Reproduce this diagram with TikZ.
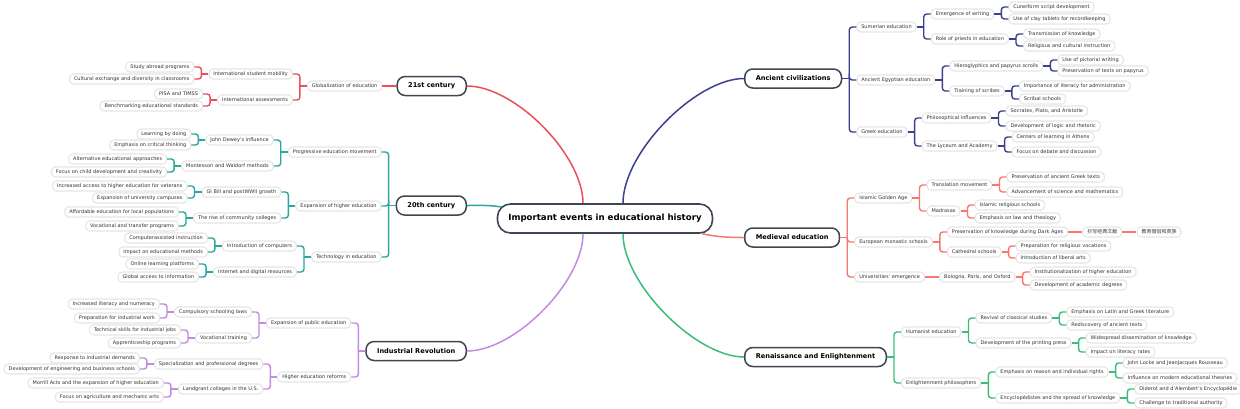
\documentclass[tikz,border=0pt]{standalone}
\usepackage{fontspec}
\setmainfont{DejaVu Sans}
\newfontfamily\cjk{Noto Sans CJK SC}
\definecolor{navy}{HTML}{3D408C}
\definecolor{salmon}{HTML}{F8776E}
\definecolor{grn}{HTML}{3DBB7B}
\definecolor{redd}{HTML}{E8505B}
\definecolor{teal2}{HTML}{2BA79F}
\definecolor{purp}{HTML}{C38BE3}
\definecolor{dark}{HTML}{3C4753}
\definecolor{leafgray}{HTML}{E6E6E6}
\definecolor{txtgray}{HTML}{333333}
\tikzset{
 leaf/.style={draw=leafgray, line width=1.1pt, rounded corners=4pt, fill=white, text=txtgray, font=\fontsize{5}{6}\selectfont, inner xsep=4.5pt, inner ysep=0pt, minimum height=10pt},
 topic/.style={draw=dark, line width=1.5pt, rounded corners=8pt, fill=white, text=black, font=\bfseries\fontsize{6.6}{8}\selectfont, inner xsep=11pt, inner ysep=0pt, minimum height=19pt},
 rootnode/.style={draw=dark, line width=1.6pt, rounded corners=13pt, fill=white, text=black, font=\bfseries\fontsize{8.6}{10}\selectfont, minimum width=215pt, minimum height=29pt},
 br/.style={line width=1.4pt},
 mainline/.style={line width=1.5pt},
}
% right-side child with bracket link: color, name, parent, y, text
\newcommand\kR[5]{%
 \path (#3.east) ++(14,0) coordinate (tmp);
 \path (#3.east) ++(7,0) coordinate (jn);
 \node[leaf,anchor=west] (#2) at (tmp |- 0,#4) {#5};
 \draw[br,#1] (#3.east) -- (jn);
 \draw[br,#1,rounded corners=3pt] (jn) |- (#2.west);}
\newcommand\sR[5]{%
 \path (#3.east) ++(14,0) coordinate (tmp);
 \node[leaf,anchor=west] (#2) at (tmp |- 0,#4) {#5};
 \draw[br,#1] (#3.east) -- (#2.west);}
\newcommand\kL[5]{%
 \path (#3.west) ++(-14,0) coordinate (tmp);
 \path (#3.west) ++(-7,0) coordinate (jn);
 \node[leaf,anchor=east] (#2) at (tmp |- 0,#4) {#5};
 \draw[br,#1] (#3.west) -- (jn);
 \draw[br,#1,rounded corners=3pt] (jn) |- (#2.east);}
\newcommand\sL[5]{%
 \path (#3.west) ++(-14,0) coordinate (tmp);
 \node[leaf,anchor=east] (#2) at (tmp |- 0,#4) {#5};
 \draw[br,#1] (#3.west) -- (#2.east);}
\begin{document}
\begin{tikzpicture}[x=1pt,y=-1pt]
\useasboundingbox (0,0) rectangle (1240,408);
\fill[white] (0,0) rectangle (1240,408);

\node[rootnode] (root) at (605,218.5) {Important events in educational history};
\node[topic,anchor=west] (anc) at (744,78.5) {Ancient civilizations};
\node[topic,anchor=west] (med) at (744,237.5) {Medieval education};
\node[topic,anchor=west] (ren) at (744,357) {Renaissance and Enlightenment};
\node[topic,anchor=east] (c21) at (467,86) {21st century};
\node[topic,anchor=east] (c20) at (467,205.5) {20th century};
\node[topic,anchor=east] (ind) at (467,351) {Industrial Revolution};

\draw[mainline,navy] ([xshift=18]root.north) .. controls +(0,-51) and +(-48,0) .. (anc.west);
\draw[mainline,grn] ([xshift=18]root.south) .. controls +(0,50) and +(-48,0) .. (ren.west);
\draw[mainline,salmon] ([xshift=-11]root.south east) .. controls +(15,3) and +(-18,0) .. (med.west);
\draw[mainline,redd] ([xshift=-22]root.north) .. controls +(0,-48) and +(48,0) .. (c21.east);
\draw[mainline,purp] ([xshift=-22]root.south) .. controls +(0,48) and +(48,0) .. (ind.east);
\draw[mainline,teal2] (c20.east) .. controls +(14,0) and +(-12,-2) .. ([xshift=5,yshift=11.5]root.west);

% Ancient civilizations
\kR{navy}{a1}{anc}{27}{Sumerian education}
\kR{navy}{a11}{a1}{14}{Emergence of writing}
\kR{navy}{a111}{a11}{7}{Cuneiform script development}
\kR{navy}{a112}{a11}{19}{Use of clay tablets for recordkeeping}
\kR{navy}{a12}{a1}{39}{Role of priests in education}
\kR{navy}{a121}{a12}{34}{Transmission of knowledge}
\kR{navy}{a122}{a12}{46}{Religious and cultural instruction}
\kR{navy}{a2}{anc}{80}{Ancient Egyptian education}
\kR{navy}{a21}{a2}{66}{Hieroglyphics and papyrus scrolls}
\kR{navy}{a211}{a21}{60}{Use of pictorial writing}
\kR{navy}{a212}{a21}{71}{Preservation of texts on papyrus}
\kR{navy}{a22}{a2}{91}{Training of scribes}
\kR{navy}{a221}{a22}{86}{Importance of literacy for administration}
\kR{navy}{a222}{a22}{99}{Scribal schools}
\kR{navy}{a3}{anc}{132}{Greek education}
\kR{navy}{a31}{a3}{118}{Philosophical influences}
\kR{navy}{a311}{a31}{111}{Socrates, Plato, and Aristotle}
\kR{navy}{a312}{a31}{126}{Development of logic and rhetoric}
\kR{navy}{a32}{a3}{146}{The Lyceum and Academy}
\kR{navy}{a321}{a32}{137}{Centers of learning in Athens}
\kR{navy}{a322}{a32}{152}{Focus on debate and discussion}

% Medieval education
\kR{salmon}{m1}{med}{198}{Islamic Golden Age}
\kR{salmon}{m11}{m1}{185}{Translation movement}
\kR{salmon}{m111}{m11}{177}{Preservation of ancient Greek texts}
\kR{salmon}{m112}{m11}{192}{Advancement of science and mathematics}
\kR{salmon}{m12}{m1}{211}{Madrasas}
\kR{salmon}{m121}{m12}{205}{Islamic religious schools}
\kR{salmon}{m122}{m12}{218}{Emphasis on law and theology}
\kR{salmon}{m2}{med}{242}{European monastic schools}
\kR{salmon}{m21}{m2}{232}{Preservation of knowledge during Dark Ages}
\sR{salmon}{m211}{m21}{232}{{\cjk 抄写经典文献}}
\sR{salmon}{m212}{m211}{232}{{\cjk 教育僧侣和贵族}}
\kR{salmon}{m22}{m2}{252}{Cathedral schools}
\kR{salmon}{m221}{m22}{246}{Preparation for religious vocations}
\kR{salmon}{m222}{m22}{258}{Introduction of liberal arts}
\kR{salmon}{m3}{med}{277}{Universities' emergence}
\sR{salmon}{m31}{m3}{277}{Bologna, Paris, and Oxford}
\kR{salmon}{m311}{m31}{272}{Institutionalization of higher education}
\kR{salmon}{m312}{m31}{285}{Development of academic degrees}

% Renaissance and Enlightenment
\kR{grn}{r1}{ren}{332}{Humanist education}
\kR{grn}{r11}{r1}{318}{Revival of classical studies}
\kR{grn}{r111}{r11}{312}{Emphasis on Latin and Greek literature}
\kR{grn}{r112}{r11}{325}{Rediscovery of ancient texts}
\kR{grn}{r12}{r1}{343}{Development of the printing press}
\kR{grn}{r121}{r12}{338}{Widespread dissemination of knowledge}
\kR{grn}{r122}{r12}{352}{Impact on literacy rates}
\kR{grn}{r2}{ren}{383}{Enlightenment philosophers}
\kR{grn}{r21}{r2}{372}{Emphasis on reason and individual rights}
\kR{grn}{r211}{r21}{363}{John Locke and JeanJacques Rousseau}
\kR{grn}{r212}{r21}{378}{Influence on modern educational theories}
\kR{grn}{r22}{r2}{398}{Encyclopédistes and the spread of knowledge}
\kR{grn}{r221}{r22}{389}{Diderot and d'Alembert's Encyclopédie}
\kR{grn}{r222}{r22}{403}{Challenge to traditional authority}

% 21st century
\sL{redd}{t1}{c21}{86}{Globalization of education}
\kL{redd}{t11}{t1}{74}{International student mobility}
\kL{redd}{t111}{t11}{67}{Study abroad programs}
\kL{redd}{t112}{t11}{79}{Cultural exchange and diversity in classrooms}
\kL{redd}{t12}{t1}{100}{International assessments}
\kL{redd}{t121}{t12}{94}{PISA and TIMSS}
\kL{redd}{t122}{t12}{106}{Benchmarking educational standards}

% 20th century
\kL{teal2}{w1}{c20}{152}{Progressive education movement}
\kL{teal2}{w11}{w1}{140}{John Dewey's influence}
\kL{teal2}{w111}{w11}{134}{Learning by doing}
\kL{teal2}{w112}{w11}{145}{Emphasis on critical thinking}
\kL{teal2}{w12}{w1}{166}{Montessori and Waldorf methods}
\kL{teal2}{w121}{w12}{159}{Alternative educational approaches}
\kL{teal2}{w122}{w12}{172}{Focus on child development and creativity}
\kL{teal2}{w2}{c20}{206}{Expansion of higher education}
\kL{teal2}{w21}{w2}{192}{GI Bill and postWWII growth}
\kL{teal2}{w211}{w21}{186}{Increased access to higher education for veterans}
\kL{teal2}{w212}{w21}{198}{Expansion of university campuses}
\kL{teal2}{w22}{w2}{218}{The rise of community colleges}
\kL{teal2}{w221}{w22}{212}{Affordable education for local populations}
\kL{teal2}{w222}{w22}{226}{Vocational and transfer programs}
\kL{teal2}{w3}{c20}{257}{Technology in education}
\kL{teal2}{w31}{w3}{246}{Introduction of computers}
\kL{teal2}{w311}{w31}{238}{Computerassisted instruction}
\kL{teal2}{w312}{w31}{252}{Impact on educational methods}
\kL{teal2}{w32}{w3}{272}{Internet and digital resources}
\kL{teal2}{w321}{w32}{264}{Online learning platforms}
\kL{teal2}{w322}{w32}{277}{Global access to information}

% Industrial Revolution
\kL{purp}{i1}{ind}{323}{Expansion of public education}
\kL{purp}{i11}{i1}{312}{Compulsory schooling laws}
\kL{purp}{i111}{i11}{304}{Increased literacy and numeracy}
\kL{purp}{i112}{i11}{318}{Preparation for industrial work}
\kL{purp}{i12}{i1}{338}{Vocational training}
\kL{purp}{i121}{i12}{330}{Technical skills for industrial jobs}
\kL{purp}{i122}{i12}{343}{Apprenticeship programs}
\kL{purp}{i2}{ind}{377}{Higher education reforms}
\kL{purp}{i21}{i2}{364}{Specialization and professional degrees}
\kL{purp}{i211}{i21}{358}{Response to industrial demands}
\kL{purp}{i212}{i21}{369}{Development of engineering and business schools}
\kL{purp}{i22}{i2}{389}{Landgrant colleges in the U.S.}
\kL{purp}{i221}{i22}{383}{Morrill Acts and the expansion of higher education}
\kL{purp}{i222}{i22}{397}{Focus on agriculture and mechanic arts}
\end{tikzpicture}
\end{document}
